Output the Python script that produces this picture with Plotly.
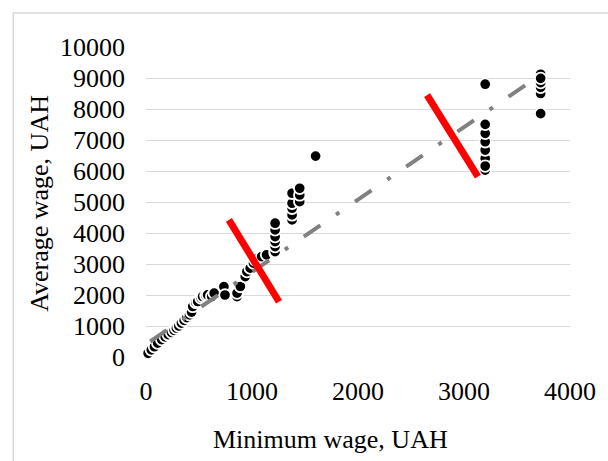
import plotly.graph_objects as go

# ---- data: (minimum wage, average wage), UAH ----
min_wage = [20, 50, 80, 110, 148, 180, 210, 241, 265, 287, 310, 334, 360, 385, 411, 430,
            441, 470, 488, 519, 534, 565, 581, 620, 643,
            735, 745, 859, 859, 890, 936, 952, 983, 1014, 1029, 1060, 1091, 1137,
            1218, 1218, 1218, 1218, 1218, 1218, 1218,
            1378, 1378, 1378, 1378, 1378, 1450, 1450, 1450, 1600,
            3200, 3200, 3200, 3200, 3200, 3200, 3200, 3200,
            3723, 3723, 3723, 3723, 3723, 3723]
avg_wage = [120, 230, 330, 450, 560, 650, 720, 790, 860, 930, 1000, 1095, 1180, 1270, 1362, 1450,
            1630, 1760, 1790, 1900, 1952, 1980, 2006, 1950, 2060,
            2270, 2000, 1950, 2060, 2275, 2595, 2757, 2866, 3027, 3134, 3200, 3240, 3295,
            3350, 3401, 3562, 3723, 3884, 4100, 4316,
            4422, 4583, 4799, 4960, 5282, 5010, 5227, 5443, 6480,
            6030, 6409, 6676, 6944, 7214, 6160, 7504, 8800,
            7850, 8500, 8700, 8850, 9120, 8990]

# linear trend
trend_slope = 2.336
trend_intercept = 407
trend_x = [40, 3723]

# red break markers
red1_x = [782, 1255]
red1_y = [4422, 1781]
red2_x = [2652, 3131]
red2_y = [8448, 5816]

x_ticks = [0, 1000, 2000, 3000, 4000]
y_ticks = list(range(0, 10001, 1000))

FONT = "Liberation Serif, Times New Roman, serif"

fig = go.Figure()
fig.add_trace(go.Scatter(
    x=min_wage, y=avg_wage, mode="markers",
    marker=dict(size=11.5, color="black", line=dict(color="white", width=1.8)),
    cliponaxis=False, showlegend=False))
fig.add_trace(go.Scatter(
    x=trend_x, y=[trend_slope * v + trend_intercept for v in trend_x],
    mode="lines", line=dict(color="#808080", width=4, dash="20px,19px,4px,19px"),
    showlegend=False))
fig.add_trace(go.Scatter(x=red1_x, y=red1_y, mode="lines",
                         line=dict(color="#ff0000", width=7), showlegend=False))
fig.add_trace(go.Scatter(x=red2_x, y=red2_y, mode="lines",
                         line=dict(color="#ff0000", width=7), showlegend=False))

fig.update_layout(
    width=608, height=461,
    margin=dict(l=146, r=31, t=47, b=104),
    paper_bgcolor="white", plot_bgcolor="white",
    font=dict(family=FONT, size=26, color="black"),
    xaxis=dict(range=[0, 4000], tickvals=x_ticks, ticktext=[str(v) for v in x_ticks],
               showgrid=False, zeroline=False, showline=False, ticks="",
               ticklabelstandoff=16, tickfont=dict(family=FONT, size=26)),
    yaxis=dict(range=[0, 10000], tickvals=y_ticks, ticktext=[str(v) for v in y_ticks],
               showgrid=True, gridcolor="#d9d9d9", gridwidth=1.3,
               zeroline=False, showline=False, ticks="",
               ticklabelstandoff=20, tickfont=dict(family=FONT, size=26)),
    annotations=[
        dict(text="Minimum wage, UAH", xref="paper", yref="paper",
             x=0.434, y=-0.266, xanchor="center", yanchor="middle",
             showarrow=False, font=dict(family=FONT, size=26)),
        dict(text="Average wage, UAH", xref="paper", yref="paper",
             x=-0.25, y=0.494, xanchor="center", yanchor="middle", textangle=-90,
             showarrow=False, font=dict(family=FONT, size=26)),
    ],
    shapes=[dict(type="rect", xref="paper", yref="paper",
                 x0=-0.3132, x1=1.5, y0=-1.0, y1=1.1097,
                 line=dict(color="#d9d9d9", width=1.5), fillcolor="rgba(0,0,0,0)",
                 layer="below")],
)

fig.write_html("out.html", config={"displayModeBar": False},
               post_script="document.body.style.margin='0';document.body.style.padding='0';")
